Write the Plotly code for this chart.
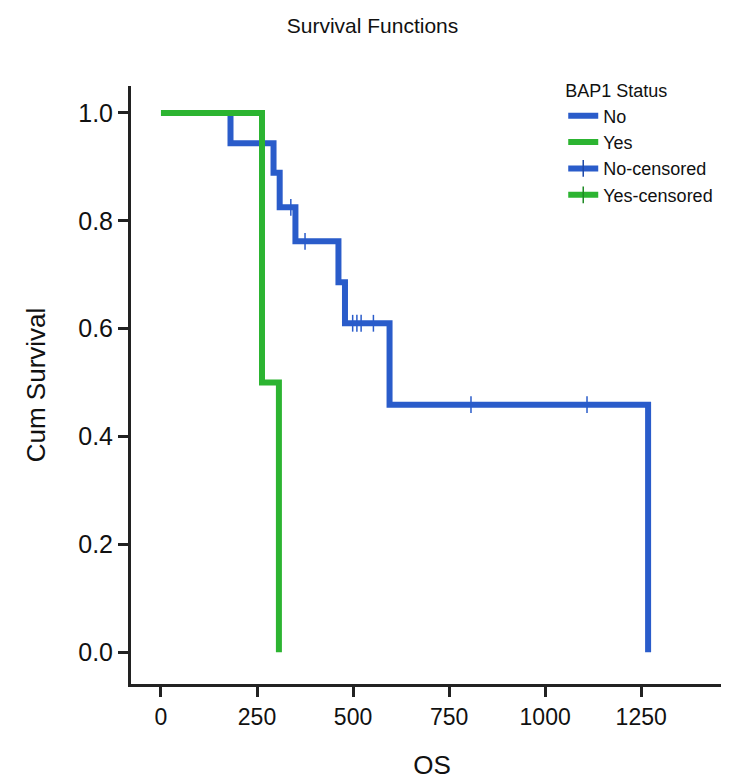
import plotly.graph_objects as go

# Kaplan-Meier step data
no_times = [0, 181, 293, 309, 350, 462, 479, 595, 1268]
no_surv = [1.0, 0.944, 0.889, 0.825, 0.762, 0.686, 0.610, 0.459, 0.0]
yes_times = [0, 263, 307]
yes_surv = [1.0, 0.5, 0.0]
no_cens_times = [338, 375, 499, 510, 521, 553, 807, 1109]
no_cens_surv = [0.825, 0.762, 0.610, 0.610, 0.610, 0.610, 0.459, 0.459]
x_ticks = [0, 250, 500, 750, 1000, 1250]
y_ticks = [0.0, 0.2, 0.4, 0.6, 0.8, 1.0]

BLUE = "#2a5cca"
GREEN = "#2cb431"
FONT = "Liberation Sans, Arial, sans-serif"

fig = go.Figure()
fig.add_trace(go.Scatter(x=no_times, y=no_surv, mode="lines", line=dict(color=BLUE, width=6, shape="hv"),
                         name="No"))
fig.add_trace(go.Scatter(x=yes_times, y=yes_surv, mode="lines", line=dict(color=GREEN, width=6, shape="hv"),
                         name="Yes"))
fig.add_trace(go.Scatter(x=no_cens_times, y=no_cens_surv, mode="markers",
                         marker=dict(symbol="line-ns", size=12, line=dict(color=BLUE, width=1.5)),
                         showlegend=False, name="No-censored"))
# legend entries for censored series
fig.add_trace(go.Scatter(x=[None], y=[None], mode="lines+markers", name="No-censored",
                         line=dict(color=BLUE, width=6),
                         marker=dict(symbol="line-ns", size=12, line=dict(color="#1d48a8", width=1.5))))
fig.add_trace(go.Scatter(x=[None], y=[None], mode="lines+markers", name="Yes-censored",
                         line=dict(color=GREEN, width=6),
                         marker=dict(symbol="line-ns", size=12, line=dict(color="#1e8a24", width=1.5))))

axis_common = dict(showline=True, linecolor="#222", linewidth=3, ticks="outside", ticklen=10,
                   tickwidth=3, tickcolor="#222", showgrid=False, zeroline=False)

fig.update_layout(
    width=729, height=784,
    margin=dict(l=123, r=4, t=78, b=108),
    paper_bgcolor="white", plot_bgcolor="white",
    title=dict(text="Survival Functions", x=0.5, xanchor="center", y=0.978, yanchor="middle",
               font=dict(family=FONT, size=21, color="#111")),
    xaxis=dict(range=[-78, 1489], tickvals=x_ticks, ticktext=[str(v) for v in x_ticks],
               tickfont=dict(family=FONT, size=23, color="#111"),
               title=dict(text="OS", font=dict(family=FONT, size=26, color="#111"), standoff=28),
               **axis_common),
    yaxis=dict(range=[-0.059, 1.05], tickvals=y_ticks, ticktext=[f"{v:.1f}" for v in y_ticks],
               tickfont=dict(family=FONT, size=25, color="#111"),
               title=dict(text="Cum Survival", font=dict(family=FONT, size=26, color="#111"), standoff=26),
               **axis_common),
    legend=dict(title=dict(text="BAP1 Status", font=dict(family=FONT, size=18, color="#111")),
                font=dict(family=FONT, size=18, color="#111"),
                x=0.718, xanchor="left", y=1.02, yanchor="top",
                bgcolor="rgba(0,0,0,0)", itemwidth=30, tracegroupgap=0),
)

fig.write_html("out.html")
